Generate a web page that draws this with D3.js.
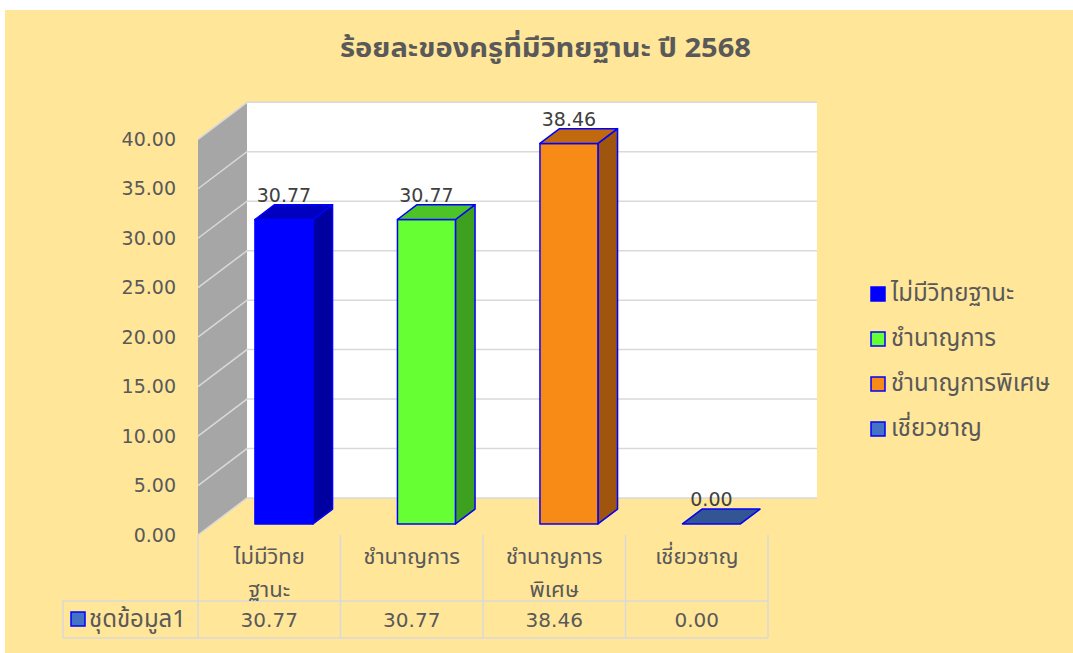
<!DOCTYPE html>
<html>
<head>
<meta charset="utf-8">
<script src="https://cdn.jsdelivr.net/npm/d3@7"></script>
<style>
  html, body { margin: 0; padding: 0; background: #ffffff; }
  svg { display: block; font-family: Tahoma, "Noto Sans Thai", "Noto Sans", "DejaVu Sans", sans-serif; }
  .num { font-family: "DejaVu Sans", Tahoma, sans-serif; }
</style>
</head>
<body>
<svg id="chart" width="1073" height="653"></svg>
<script>
// ---- data ----
const titleText = "ร้อยละของครูที่มีวิทยฐานะ ปี 2568";
const categories = ["ไม่มีวิทยฐานะ", "ชำนาญการ", "ชำนาญการพิเศษ", "เชี่ยวชาญ"];
const categoryLines = [["ไม่มีวิทย", "ฐานะ"], ["ชำนาญการ"], ["ชำนาญการ", "พิเศษ"], ["เชี่ยวชาญ"]];
const values = [30.77, 30.77, 38.46, 0.00];
const seriesName = "ชุดข้อมูล1";
const yTicks = [0, 5, 10, 15, 20, 25, 30, 35, 40];
const frontColors = ["#0000ff", "#66ff33", "#f88a16", "#335593"];
const sideColors  = ["#0000a0", "#3da11f", "#a0550f", "#2a4677"];
const topColors   = ["#0000c0", "#4cc427", "#c0690f", "#335593"];
const legendFill  = ["#0000ff", "#66ff33", "#f88a16", "#4472c4"];

// ---- layout ----
const svg = d3.select("#chart");
const DX = 49, DY = 37;              // depth offset of the 3-D box
const plotLeft = 198, plotRight = 768;
const yFront0 = 535, yFront40 = 139.3;
const fmt = d3.format(".2f");
const thaiSize = 24;

const x = d3.scaleBand().domain(categories).range([plotLeft, plotRight]).padding(0);
const y = d3.scaleLinear().domain([0, 40]).range([yFront0, yFront40]);
const proj = (px, v, z) => [px + z * DX, y(v) - z * DY];
const pts = arr => arr.map(p => p.join(",")).join(" ");

// chart area background
svg.append("rect").attr("x", 5).attr("y", 10).attr("width", 1068).attr("height", 643)
  .attr("fill", "#ffe699");

// title
svg.append("text").attr("x", 340).attr("y", 57)
  .attr("font-size", 26).attr("font-weight", "bold").attr("fill", "#595959")
  .attr("textLength", 411).attr("lengthAdjust", "spacingAndGlyphs")
  .text(titleText);

// left wall
svg.append("polygon")
  .attr("points", pts([proj(plotLeft, 0, 0), proj(plotLeft, 40, 0), proj(plotLeft, 40, 1), proj(plotLeft, 0, 1)]))
  .attr("fill", "#a6a6a6");

// back wall
const bw0 = proj(plotLeft, 40, 1), bw1 = proj(plotRight, 0, 1);
svg.append("rect").attr("x", bw0[0]).attr("y", bw0[1])
  .attr("width", bw1[0] - bw0[0]).attr("height", bw1[1] - bw0[1]).attr("fill", "#ffffff");

// gridlines on both walls
const grid = svg.append("g").attr("stroke", "#d9d9d9").attr("stroke-width", 1.5).attr("fill", "none");
grid.selectAll("path").data(yTicks).join("path")
  .attr("d", v => {
    const a = proj(plotLeft, v, 0), b = proj(plotLeft, v, 1), c = proj(plotRight, v, 1);
    return `M${a}L${b}L${c}`;
  });

// value axis labels
const axis = svg.append("g").attr("transform", `translate(${plotLeft - 12},0)`)
  .call(d3.axisLeft(y).tickValues(yTicks).tickFormat(fmt).tickSize(0).tickPadding(10));
axis.select(".domain").remove();
axis.selectAll("text").attr("class", "num").attr("font-size", 19).attr("fill", "#595959")
  .attr("font-family", null);

// 3-D bars
const z0 = 0.3, z1 = 0.7, barFrac = 0.407;
const bars = svg.append("g").attr("stroke", "#0000ff").attr("stroke-width", 1.5)
  .attr("stroke-linejoin", "round");
categories.forEach((c, i) => {
  const cx = x(c) + x.bandwidth() / 2;
  const w = x.bandwidth() * barFrac;
  const xl = cx - w / 2, xr = cx + w / 2;
  const v = values[i];
  const g = bars.append("g");
  if (v > 0) {
    g.append("polygon").attr("fill", sideColors[i])
      .attr("points", pts([proj(xr, 0, z0), proj(xr, v, z0), proj(xr, v, z1), proj(xr, 0, z1)]));
    g.append("polygon").attr("fill", frontColors[i])
      .attr("points", pts([proj(xl, 0, z0), proj(xl, v, z0), proj(xr, v, z0), proj(xr, 0, z0)]));
  }
  g.append("polygon").attr("fill", topColors[i])
    .attr("points", pts([proj(xl, v, z0), proj(xr, v, z0), proj(xr, v, z1), proj(xl, v, z1)]));
  // data label, centred over the front face
  const lx = proj(cx, v, z0)[0];
  const ly = proj(cx, v, z1)[1];
  svg.append("text").attr("class", "num").attr("x", lx).attr("y", ly - 3)
    .attr("text-anchor", "middle").attr("font-size", 19).attr("fill", "#404040").text(fmt(v));
});

// data table under the plot
const tableTop = 601, tableBottom = 638, tableLeft = 63;
const tbl = svg.append("g").attr("stroke", "#d9d9d9").attr("stroke-width", 1.5);
d3.range(categories.length + 1).forEach(i => {
  const lx = plotLeft + i * x.bandwidth();
  tbl.append("line").attr("x1", lx).attr("x2", lx).attr("y1", yFront0).attr("y2", tableBottom);
});
tbl.append("line").attr("x1", tableLeft).attr("x2", plotRight).attr("y1", tableTop).attr("y2", tableTop);
tbl.append("line").attr("x1", tableLeft).attr("x2", plotRight).attr("y1", tableBottom).attr("y2", tableBottom);
tbl.append("line").attr("x1", tableLeft).attr("x2", tableLeft).attr("y1", tableTop).attr("y2", tableBottom);

categories.forEach((c, i) => {
  const cx = x(c) + x.bandwidth() / 2;
  const lines = categoryLines[i];
  lines.forEach((line, k) => {
    svg.append("text").attr("text-anchor", "middle").attr("font-size", 22)
      .attr("fill", "#595959").attr("x", cx).attr("y", 564 + k * 33).text(line);
  });
  svg.append("text").attr("class", "num").attr("x", cx).attr("y", 627).attr("text-anchor", "middle")
    .attr("font-size", 20).attr("fill", "#595959").text(fmt(values[i]));
});
svg.append("rect").attr("x", 71).attr("y", 612).attr("width", 14).attr("height", 14)
  .attr("fill", "#4472c4").attr("stroke", "#0000ff").attr("stroke-width", 1.5);
svg.append("text").attr("x", 89).attr("y", 627).attr("font-size", thaiSize).attr("fill", "#595959")
  .text(seriesName);

// legend
const legend = svg.append("g").attr("transform", "translate(871,0)");
categories.forEach((c, i) => {
  const cy = 294 + i * 45;
  legend.append("rect").attr("x", 0).attr("y", cy - 7).attr("width", 14).attr("height", 14)
    .attr("fill", legendFill[i]).attr("stroke", "#0000ff").attr("stroke-width", 1.5);
  legend.append("text").attr("x", 20).attr("y", cy + 7).attr("font-size", thaiSize)
    .attr("fill", "#595959").text(c);
});
</script>
</body>
</html>
